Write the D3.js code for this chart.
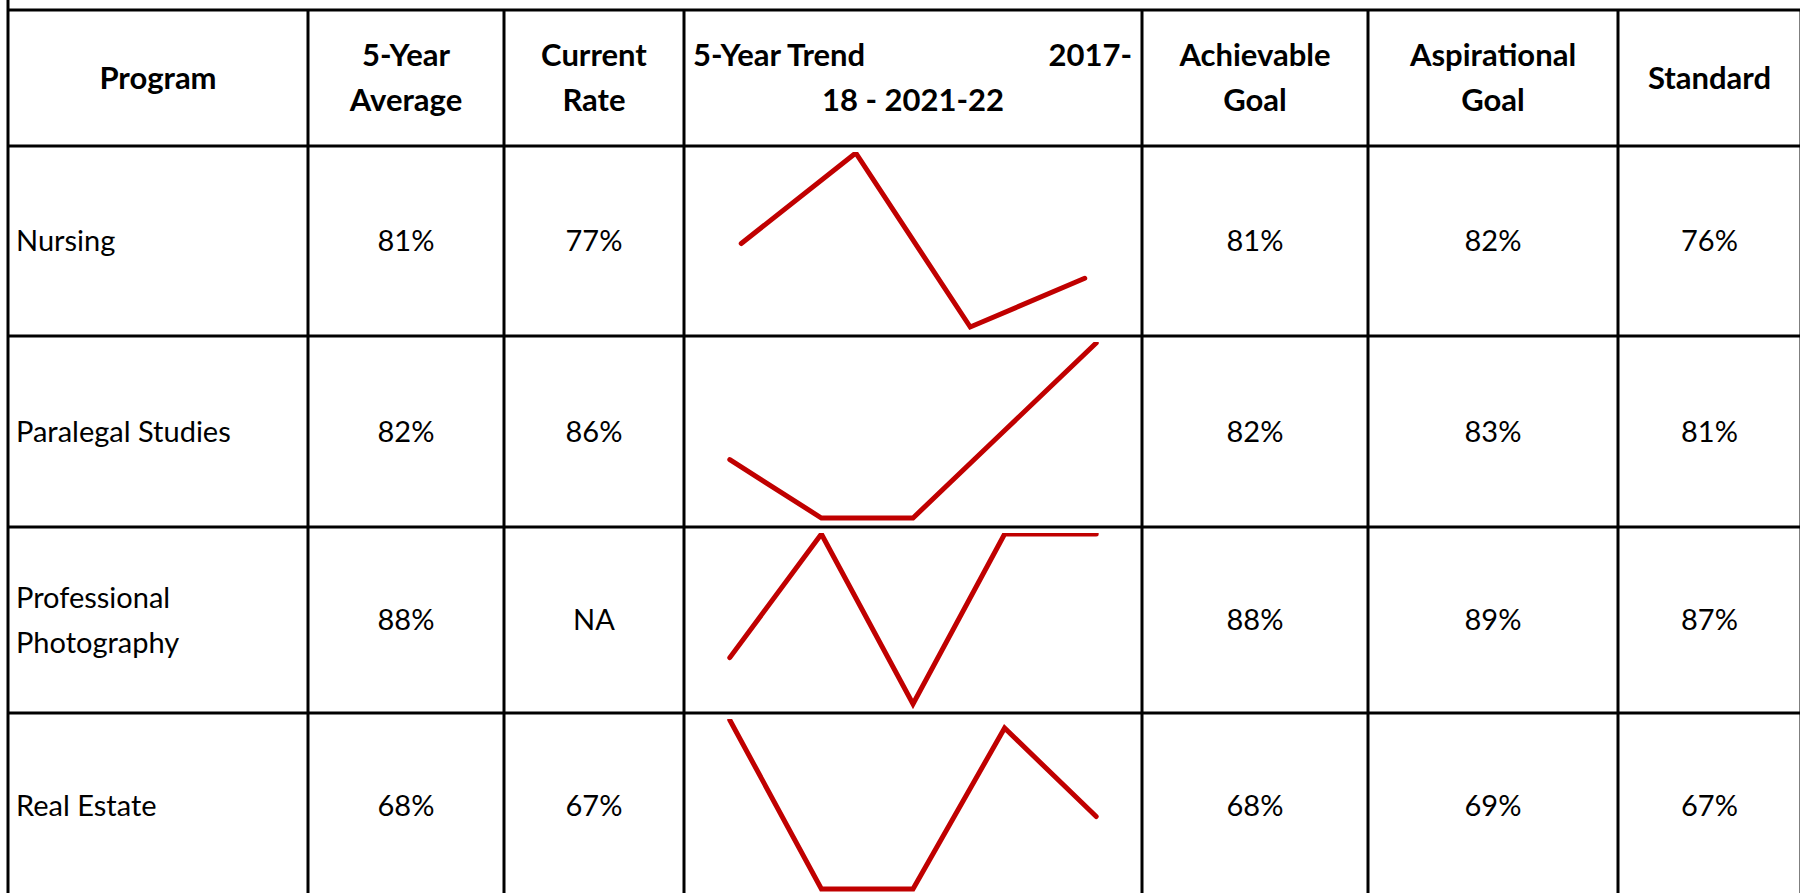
<!DOCTYPE html>
<html>
<head>
<meta charset="utf-8">
<script src="https://cdn.jsdelivr.net/npm/d3@7"></script>
<style>
  html, body { margin: 0; padding: 0; background: #fff; }
  svg { display: block; }
  text { font-family: Lato, "Open Sans", sans-serif; fill: #000; }
</style>
</head>
<body>
<svg id="svg1"></svg>
<script>
// table content
const headers = [["Program"], ["5-Year", "Average"], ["Current", "Rate"], null,
                 ["Achievable", "Goal"], ["Aspirational", "Goal"], ["Standard"]];
const programs = [["Nursing"], ["Paralegal Studies"], ["Professional", "Photography"], ["Real Estate"]];
const fiveYearAvg = ["81%", "82%", "88%", "68%"];
const currentRate = ["77%", "86%", "NA", "67%"];
const achievableGoal = ["81%", "82%", "88%", "68%"];
const aspirationalGoal = ["82%", "83%", "89%", "69%"];
const standardRate = ["76%", "81%", "87%", "67%"];

// sparkline values
const trendNursing = [82, 95, 70, 77];
const trendParalegal = [82, 80, 80, 83, 86];
const trendPhotography = [86, 94, 83, 94, 94];
const trendRealEstate = [79, 58, 58, 78, 67];
const trends = [trendNursing, trendParalegal, trendPhotography, trendRealEstate];

// layout
const width = 1800;
const height = 893;
const colEdges = [8, 308, 504, 684, 1142, 1368, 1618, 1801];
const rowEdges = [10, 146, 336, 527, 713, 898];
const lineGap = 45;
const headSize = 31;
const bodySize = 29;
const trendCol = 3;

const svg = d3.select('#svg1')
    .attr('width', width)
    .attr('height', height);

const colMid = i => (colEdges[i] + colEdges[i + 1]) / 2;
const rowMid = i => (rowEdges[i] + rowEdges[i + 1]) / 2;

// multi-line text block centred vertically on cy
function textBlock(g, lines, x, cy, anchor, size, weight) {
  const t = g.append('text')
      .attr('text-anchor', anchor)
      .attr('font-size', size)
      .attr('font-weight', weight);
  lines.forEach(function(s, k) {
    t.append('tspan')
        .attr('x', x)
        .attr('y', cy + (k - (lines.length - 1) / 2) * lineGap)
        .attr('dy', '0.35em')
        .text(s);
  });
}

// header
const head = svg.append('g');
headers.forEach(function(h, i) {
  if (h) textBlock(head, h, colMid(i), rowMid(0), 'middle', headSize, 700);
});
// trend header: justified first line, centred second line
const hy = rowMid(0);
head.append('text').attr('x', colEdges[trendCol] + 9).attr('y', hy - lineGap / 2).attr('dy', '0.35em')
    .attr('font-size', headSize).attr('font-weight', 700).text('5-Year Trend');
head.append('text').attr('x', colEdges[trendCol + 1] - 10).attr('y', hy - lineGap / 2).attr('dy', '0.35em')
    .attr('text-anchor', 'end').attr('font-size', headSize).attr('font-weight', 700).text('2017-');
head.append('text').attr('x', colMid(trendCol)).attr('y', hy + lineGap / 2).attr('dy', '0.35em')
    .attr('text-anchor', 'middle').attr('font-size', headSize).attr('font-weight', 700).text('18 - 2021-22');

// body cells
const body = svg.append('g');
const valueCols = [[1, fiveYearAvg], [2, currentRate], [4, achievableGoal], [5, aspirationalGoal], [6, standardRate]];
programs.forEach(function(p, r) {
  const cy = rowMid(r + 1);
  textBlock(body, p, colEdges[0] + 8, cy, 'start', bodySize, 400);
  valueCols.forEach(function(vc) {
    textBlock(body, [vc[1][r]], colMid(vc[0]), cy, 'middle', bodySize, 400);
  });
});

// sparklines
const defs = svg.append('defs');
trends.forEach(function(vals, r) {
  const top = rowEdges[r + 1];
  const bottom = rowEdges[r + 2];
  const x = d3.scalePoint()
      .domain(d3.range(vals.length))
      .range([colEdges[trendCol], colEdges[trendCol + 1]])
      .padding(0.5);
  const y = d3.scaleLinear()
      .domain(d3.extent(vals))
      .range([bottom - 9, top + 7]);

  defs.append('clipPath').attr('id', 'clip' + r)
    .append('rect')
      .attr('x', colEdges[trendCol] + 2)
      .attr('y', top + 6)
      .attr('width', colEdges[trendCol + 1] - colEdges[trendCol] - 4)
      .attr('height', bottom - top - 8);

  svg.append('path')
      .datum(vals)
      .attr('clip-path', 'url(#clip' + r + ')')
      .attr('fill', 'none')
      .attr('stroke', '#C00000')
      .attr('stroke-width', 5)
      .attr('stroke-linecap', 'round')
      .attr('stroke-linejoin', 'miter')
      .attr('d', d3.line().x((d, i) => x(i)).y(d => y(d)));
});

// grid lines
const grid = svg.append('g').attr('stroke', '#000').attr('stroke-width', 3);
rowEdges.forEach(function(yy) {
  grid.append('line').attr('x1', colEdges[0]).attr('x2', width).attr('y1', yy).attr('y2', yy);
});
colEdges.forEach(function(xx, i) {
  grid.append('line').attr('x1', xx).attr('x2', xx)
      .attr('y1', i === 0 ? 0 : rowEdges[0]).attr('y2', height);
});
</script>
</body>
</html>
